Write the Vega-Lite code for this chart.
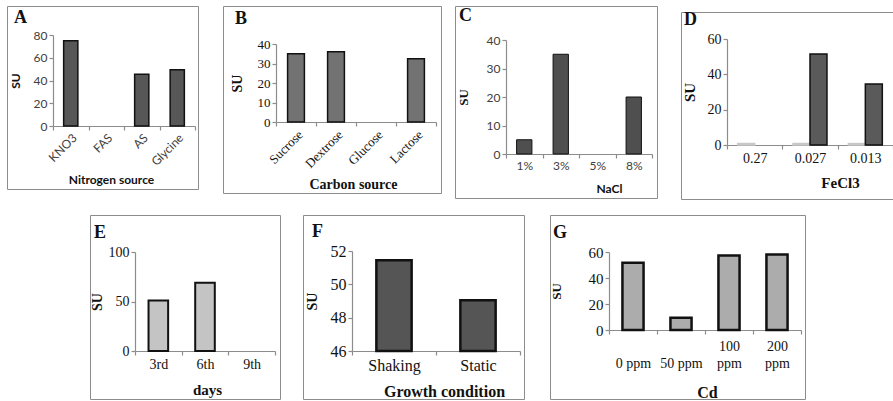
{
  "$schema": "https://vega.github.io/schema/vega-lite/v6.json",
  "padding": {"left": 5, "top": 5, "right": 0, "bottom": 0},
  "background": "white",
  "config": {
    "view": {"stroke": "#8c8c8c", "strokeWidth": 1},
    "axis": {
      "grid": false,
      "domainColor": "#8c8c8c",
      "domainWidth": 1.2,
      "tickColor": "#8c8c8c",
      "tickWidth": 1.2,
      "tickSize": 4,
      "labelColor": "#111",
      "titleColor": "#111",
      "labelFont": "Liberation Serif",
      "titleFont": "Liberation Serif",
      "titleFontWeight": "bold"
    },
    "title": {"anchor": "start", "frame": "group", "font": "Liberation Serif", "fontSize": 18, "fontWeight": "bold", "color": "#111", "baseline": "alphabetic"}
  },
  "vconcat": [
    {
      "hconcat": [
        {
          "hconcat": [
            {
              "hconcat": [
                {
                  "width": 191, "height": 183,
                  "title": {"text": "A", "offset": -21, "dx": 7},
                  "data": {"values": [
                    {"source": "KNO3", "su": 75},
                    {"source": "FAS", "su": 0},
                    {"source": "AS", "su": 45.5},
                    {"source": "Glycine", "su": 49.5}
                  ]},
                  "transform": [{"filter": "datum.su > 0"}],
                  "mark": {"type": "bar", "width": {"band": 0.4}, "fill": "#575757", "stroke": "#111", "strokeWidth": 1.5},
                  "encoding": {
                    "x": {"field": "source", "type": "nominal",
                      "scale": {"domain": ["KNO3", "FAS", "AS", "Glycine"], "range": [46, 188], "paddingInner": 0, "paddingOuter": 0},
                      "axis": {"title": "Nitrogen source", "offset": -63, "tickBand": "extent", "labelAngle": -45,
                        "labelFont": "Lato", "labelFontSize": 12, "labelColor": "#404040",
                        "titleFont": "Lato", "titleFontSize": 12, "titleX": 104, "titleY": 57, "titleBaseline": "alphabetic"}},
                    "y": {"field": "su", "type": "quantitative",
                      "scale": {"domain": [0, 80], "range": [120, 29], "nice": false},
                      "axis": {"title": "SU", "offset": -46, "values": [0, 20, 40, 60, 80],
                        "labelFont": "Lato", "labelFontSize": 12, "labelColor": "#404040",
                        "titleFont": "Lato", "titleFontSize": 12, "titleX": -31, "titleBaseline": "bottom"}}
                  }
                },
                {
                  "width": 218, "height": 187,
                  "title": {"text": "B", "offset": -22, "dx": 12},
                  "data": {"values": [
                    {"source": "Sucrose", "su": 35},
                    {"source": "Dextrose", "su": 36},
                    {"source": "Glucose", "su": 0},
                    {"source": "Lactose", "su": 32.5}
                  ]},
                  "transform": [{"filter": "datum.su > 0"}],
                  "mark": {"type": "bar", "width": {"band": 0.42}, "fill": "#727272", "stroke": "#111", "strokeWidth": 1.5},
                  "encoding": {
                    "x": {"field": "source", "type": "nominal",
                      "scale": {"domain": ["Sucrose", "Dextrose", "Glucose", "Lactose"], "range": [53, 213], "paddingInner": 0, "paddingOuter": 0},
                      "axis": {"title": "Carbon source", "offset": -71, "tickBand": "extent", "labelAngle": -45,
                        "labelFontSize": 13, "titleFontSize": 14, "titleX": 130, "titleY": 66, "titleBaseline": "alphabetic"}},
                    "y": {"field": "su", "type": "quantitative",
                      "scale": {"domain": [0, 40], "range": [116, 38], "nice": false},
                      "axis": {"title": "SU", "offset": -53, "values": [0, 10, 20, 30, 40],
                        "labelFontSize": 13, "titleFontSize": 14, "titleX": -32, "titleBaseline": "bottom"}}
                  }
                }
              ],
              "spacing": 23
            },
            {
              "width": 202, "height": 192,
              "title": {"text": "C", "offset": -19, "dx": 4},
              "data": {"values": [
                {"nacl": "1%", "su": 5},
                {"nacl": "3%", "su": 35},
                {"nacl": "5%", "su": 0},
                {"nacl": "8%", "su": 20}
              ]},
              "transform": [{"filter": "datum.su > 0"}],
              "mark": {"type": "bar", "width": {"band": 0.42}, "fill": "#4f4f4f", "stroke": "#111", "strokeWidth": 1},
              "encoding": {
                "x": {"field": "nacl", "type": "nominal",
                  "scale": {"domain": ["1%", "3%", "5%", "8%"], "range": [51, 197], "paddingInner": 0, "paddingOuter": 0},
                  "axis": {"title": "NaCl", "offset": -44, "tickBand": "extent", "labelAngle": 0,
                    "labelFont": "Lato", "labelFontSize": 12, "labelColor": "#404040",
                    "titleFont": "Lato", "titleFontSize": 12, "titleX": 154, "titleY": 38, "titleBaseline": "alphabetic"}},
                "y": {"field": "su", "type": "quantitative",
                  "scale": {"domain": [0, 40], "range": [148, 34], "nice": false},
                  "axis": {"title": "SU", "offset": -51, "values": [0, 10, 20, 30, 40],
                    "labelFont": "Lato", "labelFontSize": 12, "labelColor": "#404040",
                    "titleFontSize": 13, "titleX": -36, "titleBaseline": "bottom"}}
              }
            }
          ],
          "spacing": 12
        },
        {
          "vconcat": [
            {"width": 1, "height": 1, "view": {"stroke": null}, "data": {"values": []}, "mark": "point"},
            {
              "width": 212, "height": 187,
              "title": {"text": "D", "offset": -17, "dx": 3},
              "data": {"values": [
                {"fecl3": "0.27", "series": "light", "su": 0.8},
                {"fecl3": "0.27", "series": "dark", "su": 0},
                {"fecl3": "0.027", "series": "light", "su": 0.8},
                {"fecl3": "0.027", "series": "dark", "su": 51.5},
                {"fecl3": "0.013", "series": "light", "su": 0.8},
                {"fecl3": "0.013", "series": "dark", "su": 34.5}
              ]},
              "transform": [{"filter": "datum.su > 0"}],
              "mark": {"type": "bar", "strokeWidth": 1.5},
              "encoding": {
                "x": {"field": "fecl3", "type": "nominal",
                  "scale": {"domain": ["0.27", "0.027", "0.013"], "range": [46, 212], "paddingInner": 0, "paddingOuter": 0},
                  "axis": {"title": "FeCl3", "offset": -54, "tickBand": "extent", "labelAngle": 0,
                    "labelFontSize": 14, "titleFontSize": 15, "titleX": 159, "titleY": 42, "titleBaseline": "alphabetic"}},
                "xOffset": {"field": "series", "type": "nominal",
                  "scale": {"domain": ["light", "dark"], "paddingInner": 0, "paddingOuter": 0.63}},
                "y": {"field": "su", "type": "quantitative",
                  "scale": {"domain": [0, 60], "range": [133, 27], "nice": false},
                  "axis": {"title": "SU", "offset": -46, "values": [0, 20, 40, 60],
                    "labelFontSize": 14, "titleFontSize": 15, "titleX": -30, "titleBaseline": "bottom"}},
                "fill": {"field": "series", "type": "nominal", "legend": null,
                  "scale": {"domain": ["light", "dark"], "range": ["#c8c8c8", "#5a5a5a"]}},
                "stroke": {"field": "series", "type": "nominal", "legend": null,
                  "scale": {"domain": ["light", "dark"], "range": ["#c8c8c8", "#111"]}}
              }
            }
          ],
          "spacing": 3
        }
      ],
      "spacing": 22
    },
    {
      "hconcat": [
        {
          "hconcat": [
            {
              "hconcat": [
                {"width": 1, "height": 1, "view": {"stroke": null}, "data": {"values": []}, "mark": "point"},
                {
                  "width": 190, "height": 184,
                  "title": {"text": "E", "offset": -27, "dx": 4},
                  "data": {"values": [
                    {"day": "3rd", "su": 51},
                    {"day": "6th", "su": 69},
                    {"day": "9th", "su": 0}
                  ]},
                  "transform": [{"filter": "datum.su > 0"}],
                  "mark": {"type": "bar", "width": {"band": 0.42}, "fill": "#c4c4c4", "stroke": "#111", "strokeWidth": 2},
                  "encoding": {
                    "x": {"field": "day", "type": "nominal",
                      "scale": {"domain": ["3rd", "6th", "9th"], "range": [45, 185], "paddingInner": 0, "paddingOuter": 0},
                      "axis": {"title": "days", "offset": -48, "tickBand": "extent", "labelAngle": 0,
                        "labelFontSize": 14, "titleFontSize": 15, "titleX": 117, "titleY": 43, "titleBaseline": "alphabetic"}},
                    "y": {"field": "su", "type": "quantitative",
                      "scale": {"domain": [0, 100], "range": [136, 37], "nice": false},
                      "axis": {"title": "SU", "offset": -45, "values": [0, 50, 100],
                        "labelFontSize": 14, "titleFontSize": 14, "titleX": -31, "titleBaseline": "bottom"}}
                  }
                }
              ],
              "spacing": 81
            },
            {
              "width": 221, "height": 184,
              "title": {"text": "F", "offset": -26, "dx": 9},
              "data": {"values": [
                {"condition": "Shaking", "su": 51.45},
                {"condition": "Static", "su": 49.05}
              ]},
              "mark": {"type": "bar", "width": {"band": 0.42}, "fill": "#555555", "stroke": "#111", "strokeWidth": 2.5},
              "encoding": {
                "x": {"field": "condition", "type": "nominal",
                  "scale": {"domain": ["Shaking", "Static"], "range": [49, 217], "paddingInner": 0, "paddingOuter": 0},
                  "axis": {"title": "Growth condition", "offset": -48, "tickBand": "extent", "labelAngle": 0,
                    "labelFontSize": 16, "titleFontSize": 16, "titleX": 141, "titleY": 45, "titleBaseline": "alphabetic"}},
                "y": {"field": "su", "type": "quantitative",
                  "scale": {"domain": [46, 52], "range": [136, 36], "nice": false, "zero": false},
                  "axis": {"title": "SU", "offset": -49, "values": [46, 48, 50, 52],
                    "labelFontSize": 16, "titleFontSize": 14, "titleX": -33, "titleBaseline": "bottom"}},
                "y2": {"datum": 46}
              }
            }
          ],
          "spacing": 21
        },
        {
          "width": 255, "height": 184,
          "title": {"text": "G", "offset": -27, "dx": 3},
          "data": {"values": [
            {"cd": "0 ppm", "su": 51.8},
            {"cd": "50 ppm", "su": 9.5},
            {"cd": "100 ppm", "su": 57.3},
            {"cd": "200 ppm", "su": 58}
          ]},
          "mark": {"type": "bar", "width": {"band": 0.44}, "fill": "#acacac", "stroke": "#111", "strokeWidth": 2.5},
          "encoding": {
            "x": {"field": "cd", "type": "nominal",
              "scale": {"domain": ["0 ppm", "50 ppm", "100 ppm", "200 ppm"], "range": [59, 251], "paddingInner": 0, "paddingOuter": 0},
              "axis": {"title": "Cd", "offset": -69, "tickBand": "extent", "labelAngle": 0,
                "labelExpr": "indexof(datum.label, '100') == 0 || indexof(datum.label, '200') == 0 ? split(datum.label, ' ') : datum.label",
                "labelBaseline": "alphabetic", "labelLineHeight": 17,
                "labelPadding": {"condition": {"test": "indexof(datum.label, '100') == 0 || indexof(datum.label, '200') == 0", "value": 16}, "value": 33},
                "labelFontSize": 14, "titleFontSize": 16, "titleX": 157, "titleY": 67, "titleBaseline": "alphabetic"}},
            "y": {"field": "su", "type": "quantitative",
              "scale": {"domain": [0, 60], "range": [115, 37], "nice": false},
              "axis": {"title": "SU", "offset": -59, "values": [0, 20, 40, 60],
                "labelFontSize": 15, "titleFontSize": 13, "titleX": -46, "titleBaseline": "bottom"}}
          }
        }
      ],
      "spacing": 24
    }
  ],
  "spacing": 14
}
